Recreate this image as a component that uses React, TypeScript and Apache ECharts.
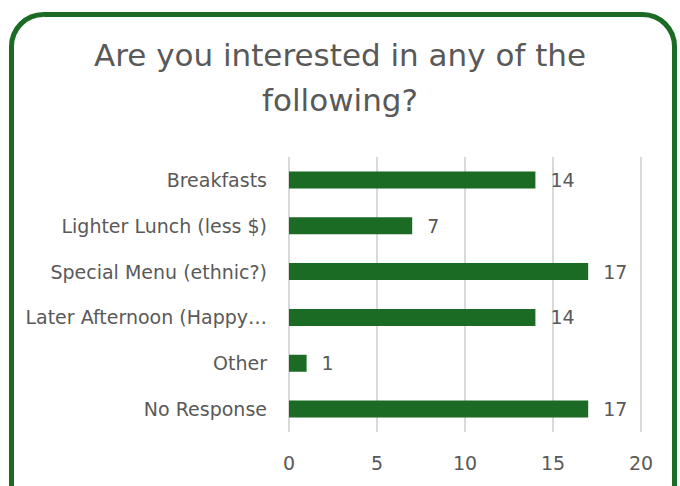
import React, { useEffect, useRef } from "react";
import * as echarts from "echarts";

const categories = [
  "Breakfasts",
  "Lighter Lunch (less $)",
  "Special Menu (ethnic?)",
  "Later Afternoon (Happy Hour)",
  "Other",
  "No Response",
];
const values = [14, 7, 17, 14, 1, 17];
const xTicks = { min: 0, max: 20, interval: 5 };
const titleText = "Are you interested in any of the\nfollowing?";

const GREEN = "#1b6b25";
const TEXT = "#595959";
const FONT = "'DejaVu Sans', sans-serif";

export default function App() {
  const ref = useRef<HTMLDivElement>(null);
  useEffect(() => {
    if (!ref.current) return;
    const chart = echarts.init(ref.current, undefined, { renderer: "svg" });
    chart.setOption({
      animation: false,
      backgroundColor: "#ffffff",
      textStyle: { fontFamily: FONT },
      title: {
        text: titleText,
        left: "center",
        top: 27,
        textStyle: {
          color: TEXT,
          fontSize: 31,
          fontWeight: "normal",
          lineHeight: 45,
          fontFamily: FONT,
        },
      },
      graphic: [
        {
          type: "rect",
          shape: { x: 11.5, y: 14.5, width: 663, height: 510, r: 32 },
          style: { fill: "none", stroke: GREEN, lineWidth: 5 },
          silent: true,
        },
      ],
      grid: { left: 289, right: 39, top: 157, bottom: 54, containLabel: false },
      xAxis: {
        type: "value",
        min: xTicks.min,
        max: xTicks.max,
        interval: xTicks.interval,
        axisLine: { show: false },
        axisTick: { show: false },
        axisLabel: { color: TEXT, fontSize: 19, margin: 21, fontFamily: FONT },
        splitLine: { show: true, lineStyle: { color: "#d9d9d9", width: 2 } },
      },
      yAxis: {
        type: "category",
        data: categories,
        inverse: true,
        axisLine: { show: false },
        axisTick: { show: false },
        axisLabel: {
          color: TEXT,
          fontSize: 19,
          margin: 22,
          fontFamily: FONT,
          width: 244,
          overflow: "truncate",
          ellipsis: "…",
        },
        splitLine: { show: false },
      },
      series: [
        {
          type: "bar",
          data: values,
          barWidth: 17,
          itemStyle: { color: GREEN },
          label: {
            show: true,
            position: "right",
            distance: 15,
            color: TEXT,
            fontSize: 19,
            fontFamily: FONT,
          },
        },
      ],
    });
    return () => chart.dispose();
  }, []);
  return (
    <div
      ref={ref}
      style={{ position: "fixed", left: 0, top: 0, width: 680, height: 486 }}
    />
  );
}
